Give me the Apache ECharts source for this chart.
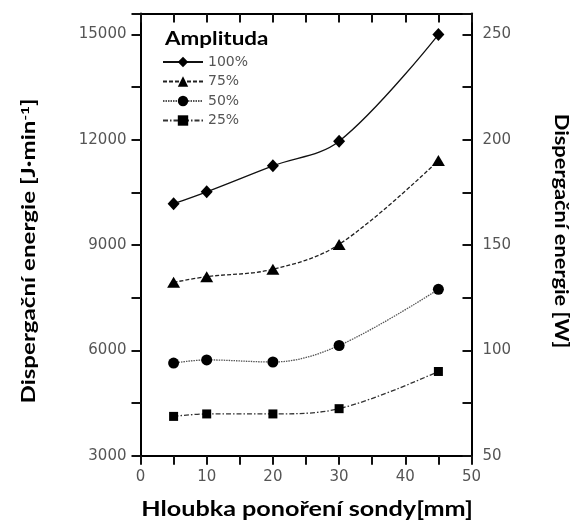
<!DOCTYPE html>
<html>
<head>
<meta charset="utf-8">
<script src="https://cdn.jsdelivr.net/npm/echarts@6/dist/echarts.min.js"></script>
<style>
  html, body { margin: 0; padding: 0; background: #fff; }
  #main { width: 571px; height: 530px; }
</style>
</head>
<body>
<div id="main"></div>
<script>
// hloubka ponoreni sondy [mm]
var depth = [5, 10, 20, 30, 45]
// dispergacni energie [J/min] pro jednotlive amplitudy
var amp100 = [10180, 10520, 11260, 11960, 15000]
var amp75 = [7940, 8100, 8310, 9020, 11410]
var amp50 = [5640, 5730, 5670, 6140, 7740]
var amp25 = [4120, 4190, 4190, 4340, 5400]
var seriesNames = ['100%', '75%', '50%', '25%']

// osy: kroky popisku a carek
var leftLabelStep = 3000
var leftTickStep = 1500
var rightLabelStep = 50
var rightTickStep = 25
var xLabelStep = 10
var xTickStep = 5

var labelFont = {color: '#555', fontFamily: 'DejaVu Sans', fontSize: 15}
var titleFont = 'Lato'

function every (step) {
  return function (v) { return v % step === 0 ? String(v) : '' }
}

function mkSeries (name, data, symbol, size, dash, color) {
  return {
    name: name,
    type: 'line',
    xAxisIndex: 0,
    yAxisIndex: 0,
    smooth: 0.35,
    symbol: symbol,
    symbolSize: size,
    data: depth.map(function (d, i) { return [d, data[i]] }),
    lineStyle: {color: color, width: 1.3, type: dash},
    itemStyle: {color: '#000'}
  }
}

function tick (inside) {
  return {show: true, inside: inside, length: 9, lineStyle: {color: '#111', width: 2}}
}

var myChart = echarts.init(document.getElementById('main'))
var option = {
  animation: false,
  grid: {left: 140.5, right: 99.5, top: 13.5, bottom: 74.3},
  legend: {
    orient: 'vertical',
    left: 157,
    top: 50,
    itemWidth: 40,
    itemHeight: 13,
    itemGap: 5.5,
    textStyle: {color: '#555', fontFamily: 'DejaVu Sans', fontSize: 14},
    data: seriesNames
  },
  xAxis: [
    {
      type: 'value',
      position: 'bottom',
      min: 0,
      max: 50,
      interval: xTickStep,
      axisLine: {show: true, onZero: false, lineStyle: {color: '#000', width: 2}},
      axisTick: tick(false),
      axisLabel: Object.assign({formatter: every(xLabelStep), margin: 14}, labelFont),
      splitLine: {show: false}
    },
    {
      type: 'value',
      position: 'top',
      min: 0,
      max: 50,
      interval: xTickStep,
      axisLine: {show: true, onZero: false, lineStyle: {color: '#000', width: 2}},
      axisTick: tick(true),
      axisLabel: {show: false},
      splitLine: {show: false}
    }
  ],
  yAxis: [
    {
      type: 'value',
      position: 'left',
      min: 3000,
      max: 15600,
      interval: leftTickStep,
      axisLine: {show: true, onZero: false, lineStyle: {color: '#000', width: 2}},
      axisTick: tick(false),
      axisLabel: Object.assign({formatter: every(leftLabelStep), margin: 14}, labelFont),
      splitLine: {show: false}
    },
    {
      type: 'value',
      position: 'right',
      min: 50,
      max: 260,
      interval: rightTickStep,
      axisLine: {show: true, onZero: false, lineStyle: {color: '#000', width: 2}},
      axisTick: tick(true),
      axisLabel: Object.assign({formatter: every(rightLabelStep), margin: 11}, labelFont),
      splitLine: {show: false}
    }
  ],
  graphic: [
    {
      type: 'text',
      x: 165,
      y: 29,
      scaleX: 1.18,
      style: {text: 'Amplituda', fill: '#000', font: 'bold 19px Lato'}
    },
    {
      type: 'text',
      x: 307,
      y: 510,
      scaleX: 1.26,
      style: {
        text: 'Hloubka ponoření sondy[mm]',
        fill: '#000',
        font: 'bold 20px ' + titleFont,
        align: 'center',
        verticalAlign: 'middle'
      }
    },
    {
      type: 'text',
      x: 29,
      y: 251,
      rotation: Math.PI / 2,
      scaleX: 1.27,
      style: {
        text: '{a|Dispergační energie [J·min}{s|-1}{a|]}',
        align: 'center',
        verticalAlign: 'middle',
        rich: {
          a: {fill: '#000', fontFamily: titleFont, fontWeight: 'bold', fontSize: 19},
          s: {fill: '#000', fontFamily: titleFont, fontWeight: 'bold', fontSize: 12, verticalAlign: 'top', padding: [0, 0, 8, 0]}
        }
      }
    },
    {
      type: 'text',
      x: 561,
      y: 231,
      rotation: -Math.PI / 2,
      scaleX: 1.15,
      style: {
        text: 'Dispergační energie [W]',
        fill: '#000',
        font: 'bold 19px ' + titleFont,
        align: 'center',
        verticalAlign: 'middle'
      }
    }
  ],
  series: [
    mkSeries('100%', amp100, 'diamond', [12, 13], 'solid', '#111'),
    mkSeries('75%', amp75, 'triangle', [13, 11], [4, 2], '#222'),
    mkSeries('50%', amp50, 'circle', 11, [1.5, 1], '#555'),
    mkSeries('25%', amp25, 'rect', 9, [5, 2, 1.5, 2], '#333')
  ]
}

option && myChart.setOption(option)
</script>
</body>
</html>
